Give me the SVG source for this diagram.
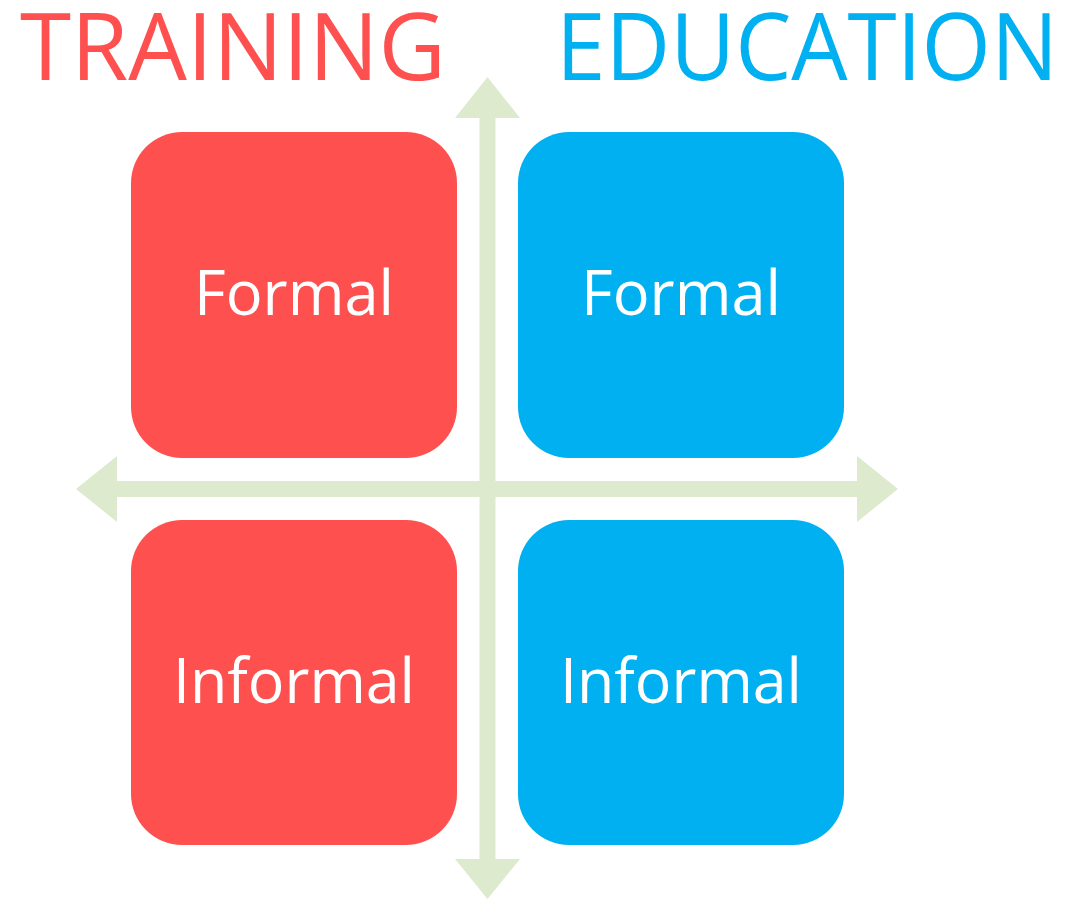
<svg xmlns="http://www.w3.org/2000/svg" width="1089" height="899" viewBox="0 0 1089 899">
<style>
.red{fill:#FF5050}
.blue{fill:#00B0F0}
.axis{fill:#DDEACD}
.lbl{font-family:"Open Sans","Liberation Sans",sans-serif;font-size:63px;fill:#FFFFFF;text-anchor:middle}
.title{font-family:"Open Sans","Liberation Sans",sans-serif;font-size:94px}
</style>
<rect width="1089" height="899" fill="#FFFFFF"/>
<g id="connectors">
<polygon class="axis" points="487.5,77 520,118 495.5,118 495.5,859 520,859 487.5,899 455,859 479.5,859 479.5,118 455,118"/>
<polygon class="axis" points="76,489 117,456 117,481 857,481 857,456 898,489 857,522 857,497 117,497 117,522"/>
</g>
<g id="title-training"><text class="title red" x="20" y="80" textLength="426" lengthAdjust="spacingAndGlyphs">TRAINING</text></g>
<g id="title-education"><text class="title blue" x="556" y="80" textLength="502" lengthAdjust="spacingAndGlyphs">EDUCATION</text></g>
<g id="training-formal"><rect class="red" x="131" y="132" width="326" height="326" rx="51"/><text class="lbl" x="294" y="315" textLength="200" lengthAdjust="spacingAndGlyphs">Formal</text></g>
<g id="education-formal"><rect class="blue" x="518" y="132" width="326" height="326" rx="51"/><text class="lbl" x="681" y="315" textLength="200" lengthAdjust="spacingAndGlyphs">Formal</text></g>
<g id="training-informal"><rect class="red" x="131" y="520" width="326" height="325" rx="51"/><text class="lbl" x="294" y="703" textLength="242" lengthAdjust="spacingAndGlyphs">Informal</text></g>
<g id="education-informal"><rect class="blue" x="518" y="520" width="326" height="325" rx="51"/><text class="lbl" x="681" y="703" textLength="242" lengthAdjust="spacingAndGlyphs">Informal</text></g>
</svg>
